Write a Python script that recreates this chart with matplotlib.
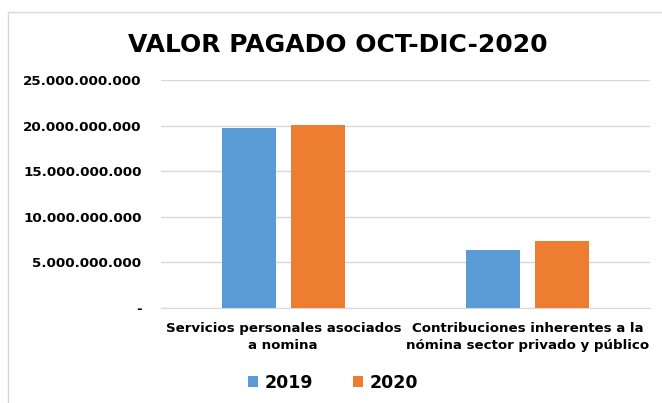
import numpy as np
import matplotlib.pyplot as plt
from matplotlib.ticker import FuncFormatter
from matplotlib.patches import Rectangle

# valores (pesos)
categorias = ['Servicios personales asociados\na nomina',
              'Contribuciones inherentes a la\nnómina sector privado y público']
valores_2019 = [19.70e9, 6.33e9]
valores_2020 = [20.06e9, 7.40e9]
series = ['2019', '2020']
colores = ['#5B9BD5', '#ED7D31']


def fmt_miles(v, pos):
    if v == 0:
        return '-'
    return '{:,.0f}'.format(v).replace(',', '.')


fig = plt.figure(figsize=(6.62, 4.03), dpi=100)
ax = fig.add_axes([161 / 662, 1 - 308 / 403, 489 / 662, 228 / 403])

# borde del area del grafico
fig.patches.append(Rectangle((8 / 662, -0.1), 1.1, 1 - 12 / 403 + 0.1,
                             transform=fig.transFigure, fill=False,
                             edgecolor='#D9D9D9', linewidth=1))

x = np.arange(len(categorias))
ancho = 0.22
sep = 0.141
ax.bar(x - sep, valores_2019, ancho, color=colores[0], label=series[0], zorder=3)
ax.bar(x + sep, valores_2020, ancho, color=colores[1], label=series[1], zorder=3)

ax.set_xlim(-0.5, 1.5)
ax.set_ylim(0, 25e9)
ax.set_yticks(np.arange(0, 25e9 + 1, 5e9))
ax.yaxis.set_major_formatter(FuncFormatter(fmt_miles))
ax.grid(axis='y', color='#D9D9D9', linewidth=1, zorder=0)
for s in ['top', 'right', 'left']:
    ax.spines[s].set_visible(False)
ax.spines['bottom'].set_color('#D9D9D9')
ax.tick_params(axis='both', length=0)
ax.tick_params(axis='y', pad=14)
ax.set_xticks(x)
ax.set_xticklabels(categorias, fontsize=9.6, fontweight='bold', linespacing=1.45)
ax.tick_params(axis='x', pad=10)
for lbl in ax.get_yticklabels():
    lbl.set_fontsize(9.7)
    lbl.set_fontweight('bold')

fig.text(0.511, 1 - 45 / 403, 'VALOR PAGADO OCT-DIC-2020', ha='center', va='center',
         fontsize=18, fontweight='bold')

fig.legend(loc='center', bbox_to_anchor=(0.503, 1 - 383 / 403), ncol=2, frameon=False,
           prop={'size': 12.5, 'weight': 'bold'}, handlelength=0.6, handleheight=0.6,
           handletextpad=0.35, columnspacing=2.3)

fig.savefig('out.png', dpi=100)
